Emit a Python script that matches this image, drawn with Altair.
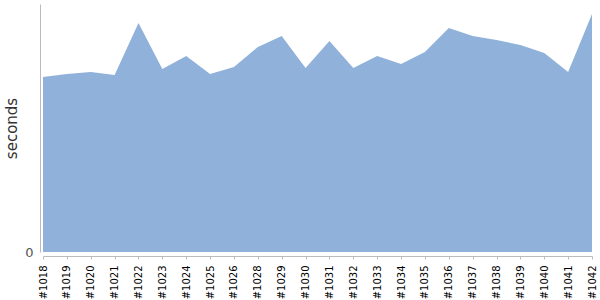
import altair as alt
import pandas as pd

builds = ["#1018", "#1019", "#1020", "#1021", "#1022", "#1023", "#1024", "#1025",
          "#1026", "#1028", "#1029", "#1030", "#1031", "#1032", "#1033", "#1034",
          "#1035", "#1036", "#1037", "#1038", "#1039", "#1040", "#1041", "#1042"]
seconds = [175, 178, 180, 177, 229, 183, 196, 178, 185, 205, 216, 184, 211,
           184, 196, 188, 200, 224, 216, 212, 207, 199, 180, 238]

df = pd.DataFrame({"build": builds, "seconds": seconds})

chart = alt.Chart(df).mark_area(color="#8fb1da", opacity=1).encode(
    x=alt.X("build:O", sort=builds, title=None,
            scale=alt.Scale(type="point", padding=0),
            axis=alt.Axis(labelAngle=-90, labelFontSize=10, labelColor="#000",
                          labelFont="DejaVu Sans", domainColor="#bbb",
                          tickColor="#bbb", tickSize=3, labelPadding=6,
                          offset=4, grid=False)),
    y=alt.Y("seconds:Q", title="seconds",
            scale=alt.Scale(domain=[0, 248], nice=False),
            axis=alt.Axis(values=[0], grid=False, domainColor="#bbb",
                          ticks=False, offset=3, labelPadding=7,
                          labelFontSize=13, labelColor="#555",
                          labelFont="DejaVu Sans", titleFont="DejaVu Sans",
                          titleFontSize=15, titleFontWeight="normal",
                          titleColor="#333", titlePadding=5)),
).properties(
    width=549, height=248,
    autosize=alt.AutoSizeParams(type="none"),
    padding={"left": 43, "top": 4, "right": 8, "bottom": 48},
).configure_view(stroke=None)

chart.save("out.html", embed_options={"renderer": "svg", "actions": False})
